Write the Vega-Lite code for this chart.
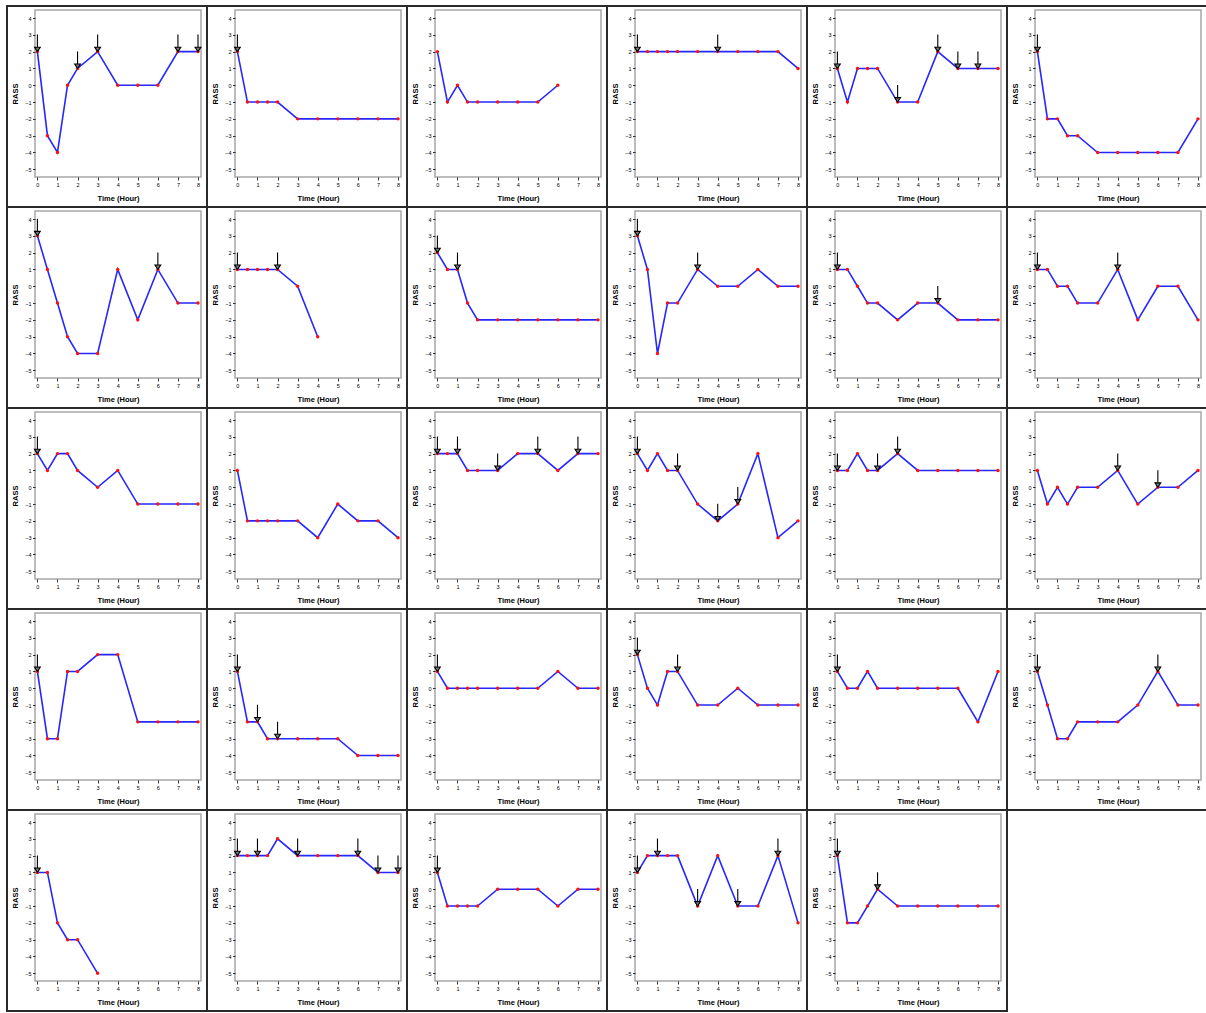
{
"$schema": "https://vega.github.io/schema/vega-lite/v6.json",
"padding": {"left": 5, "top": 4, "right": 0, "bottom": 0},
"bounds": "flush",
"spacing": {"row": 34, "column": 34},
"columns": 6,
"data": {"values": [
{"panel":"P01","time":0,"rass":2,"arrow":1},{"panel":"P01","time":0.5,"rass":-3,"arrow":0},{"panel":"P01","time":1,"rass":-4,"arrow":0},{"panel":"P01","time":1.5,"rass":0,"arrow":0},{"panel":"P01","time":2,"rass":1,"arrow":1},{"panel":"P01","time":3,"rass":2,"arrow":1},{"panel":"P01","time":4,"rass":0,"arrow":0},{"panel":"P01","time":5,"rass":0,"arrow":0},{"panel":"P01","time":6,"rass":0,"arrow":0},{"panel":"P01","time":7,"rass":2,"arrow":1},{"panel":"P01","time":8,"rass":2,"arrow":1},
{"panel":"P02","time":0,"rass":2,"arrow":1},{"panel":"P02","time":0.5,"rass":-1,"arrow":0},{"panel":"P02","time":1,"rass":-1,"arrow":0},{"panel":"P02","time":1.5,"rass":-1,"arrow":0},{"panel":"P02","time":2,"rass":-1,"arrow":0},{"panel":"P02","time":3,"rass":-2,"arrow":0},{"panel":"P02","time":4,"rass":-2,"arrow":0},{"panel":"P02","time":5,"rass":-2,"arrow":0},{"panel":"P02","time":6,"rass":-2,"arrow":0},{"panel":"P02","time":7,"rass":-2,"arrow":0},{"panel":"P02","time":8,"rass":-2,"arrow":0},
{"panel":"P03","time":0,"rass":2,"arrow":0},{"panel":"P03","time":0.5,"rass":-1,"arrow":0},{"panel":"P03","time":1,"rass":0,"arrow":0},{"panel":"P03","time":1.5,"rass":-1,"arrow":0},{"panel":"P03","time":2,"rass":-1,"arrow":0},{"panel":"P03","time":3,"rass":-1,"arrow":0},{"panel":"P03","time":4,"rass":-1,"arrow":0},{"panel":"P03","time":5,"rass":-1,"arrow":0},{"panel":"P03","time":6,"rass":0,"arrow":0},
{"panel":"P04","time":0,"rass":2,"arrow":1},{"panel":"P04","time":0.5,"rass":2,"arrow":0},{"panel":"P04","time":1,"rass":2,"arrow":0},{"panel":"P04","time":1.5,"rass":2,"arrow":0},{"panel":"P04","time":2,"rass":2,"arrow":0},{"panel":"P04","time":3,"rass":2,"arrow":0},{"panel":"P04","time":4,"rass":2,"arrow":1},{"panel":"P04","time":5,"rass":2,"arrow":0},{"panel":"P04","time":6,"rass":2,"arrow":0},{"panel":"P04","time":7,"rass":2,"arrow":0},{"panel":"P04","time":8,"rass":1,"arrow":0},
{"panel":"P05","time":0,"rass":1,"arrow":1},{"panel":"P05","time":0.5,"rass":-1,"arrow":0},{"panel":"P05","time":1,"rass":1,"arrow":0},{"panel":"P05","time":1.5,"rass":1,"arrow":0},{"panel":"P05","time":2,"rass":1,"arrow":0},{"panel":"P05","time":3,"rass":-1,"arrow":1},{"panel":"P05","time":4,"rass":-1,"arrow":0},{"panel":"P05","time":5,"rass":2,"arrow":1},{"panel":"P05","time":6,"rass":1,"arrow":1},{"panel":"P05","time":7,"rass":1,"arrow":1},{"panel":"P05","time":8,"rass":1,"arrow":0},
{"panel":"P06","time":0,"rass":2,"arrow":1},{"panel":"P06","time":0.5,"rass":-2,"arrow":0},{"panel":"P06","time":1,"rass":-2,"arrow":0},{"panel":"P06","time":1.5,"rass":-3,"arrow":0},{"panel":"P06","time":2,"rass":-3,"arrow":0},{"panel":"P06","time":3,"rass":-4,"arrow":0},{"panel":"P06","time":4,"rass":-4,"arrow":0},{"panel":"P06","time":5,"rass":-4,"arrow":0},{"panel":"P06","time":6,"rass":-4,"arrow":0},{"panel":"P06","time":7,"rass":-4,"arrow":0},{"panel":"P06","time":8,"rass":-2,"arrow":0},
{"panel":"P07","time":0,"rass":3,"arrow":1},{"panel":"P07","time":0.5,"rass":1,"arrow":0},{"panel":"P07","time":1,"rass":-1,"arrow":0},{"panel":"P07","time":1.5,"rass":-3,"arrow":0},{"panel":"P07","time":2,"rass":-4,"arrow":0},{"panel":"P07","time":3,"rass":-4,"arrow":0},{"panel":"P07","time":4,"rass":1,"arrow":0},{"panel":"P07","time":5,"rass":-2,"arrow":0},{"panel":"P07","time":6,"rass":1,"arrow":1},{"panel":"P07","time":7,"rass":-1,"arrow":0},{"panel":"P07","time":8,"rass":-1,"arrow":0},
{"panel":"P08","time":0,"rass":1,"arrow":1},{"panel":"P08","time":0.5,"rass":1,"arrow":0},{"panel":"P08","time":1,"rass":1,"arrow":0},{"panel":"P08","time":1.5,"rass":1,"arrow":0},{"panel":"P08","time":2,"rass":1,"arrow":1},{"panel":"P08","time":3,"rass":0,"arrow":0},{"panel":"P08","time":4,"rass":-3,"arrow":0},
{"panel":"P09","time":0,"rass":2,"arrow":1},{"panel":"P09","time":0.5,"rass":1,"arrow":0},{"panel":"P09","time":1,"rass":1,"arrow":1},{"panel":"P09","time":1.5,"rass":-1,"arrow":0},{"panel":"P09","time":2,"rass":-2,"arrow":0},{"panel":"P09","time":3,"rass":-2,"arrow":0},{"panel":"P09","time":4,"rass":-2,"arrow":0},{"panel":"P09","time":5,"rass":-2,"arrow":0},{"panel":"P09","time":6,"rass":-2,"arrow":0},{"panel":"P09","time":7,"rass":-2,"arrow":0},{"panel":"P09","time":8,"rass":-2,"arrow":0},
{"panel":"P10","time":0,"rass":3,"arrow":1},{"panel":"P10","time":0.5,"rass":1,"arrow":0},{"panel":"P10","time":1,"rass":-4,"arrow":0},{"panel":"P10","time":1.5,"rass":-1,"arrow":0},{"panel":"P10","time":2,"rass":-1,"arrow":0},{"panel":"P10","time":3,"rass":1,"arrow":1},{"panel":"P10","time":4,"rass":0,"arrow":0},{"panel":"P10","time":5,"rass":0,"arrow":0},{"panel":"P10","time":6,"rass":1,"arrow":0},{"panel":"P10","time":7,"rass":0,"arrow":0},{"panel":"P10","time":8,"rass":0,"arrow":0},
{"panel":"P11","time":0,"rass":1,"arrow":1},{"panel":"P11","time":0.5,"rass":1,"arrow":0},{"panel":"P11","time":1,"rass":0,"arrow":0},{"panel":"P11","time":1.5,"rass":-1,"arrow":0},{"panel":"P11","time":2,"rass":-1,"arrow":0},{"panel":"P11","time":3,"rass":-2,"arrow":0},{"panel":"P11","time":4,"rass":-1,"arrow":0},{"panel":"P11","time":5,"rass":-1,"arrow":1},{"panel":"P11","time":6,"rass":-2,"arrow":0},{"panel":"P11","time":7,"rass":-2,"arrow":0},{"panel":"P11","time":8,"rass":-2,"arrow":0},
{"panel":"P12","time":0,"rass":1,"arrow":1},{"panel":"P12","time":0.5,"rass":1,"arrow":0},{"panel":"P12","time":1,"rass":0,"arrow":0},{"panel":"P12","time":1.5,"rass":0,"arrow":0},{"panel":"P12","time":2,"rass":-1,"arrow":0},{"panel":"P12","time":3,"rass":-1,"arrow":0},{"panel":"P12","time":4,"rass":1,"arrow":1},{"panel":"P12","time":5,"rass":-2,"arrow":0},{"panel":"P12","time":6,"rass":0,"arrow":0},{"panel":"P12","time":7,"rass":0,"arrow":0},{"panel":"P12","time":8,"rass":-2,"arrow":0},
{"panel":"P13","time":0,"rass":2,"arrow":1},{"panel":"P13","time":0.5,"rass":1,"arrow":0},{"panel":"P13","time":1,"rass":2,"arrow":0},{"panel":"P13","time":1.5,"rass":2,"arrow":0},{"panel":"P13","time":2,"rass":1,"arrow":0},{"panel":"P13","time":3,"rass":0,"arrow":0},{"panel":"P13","time":4,"rass":1,"arrow":0},{"panel":"P13","time":5,"rass":-1,"arrow":0},{"panel":"P13","time":6,"rass":-1,"arrow":0},{"panel":"P13","time":7,"rass":-1,"arrow":0},{"panel":"P13","time":8,"rass":-1,"arrow":0},
{"panel":"P14","time":0,"rass":1,"arrow":0},{"panel":"P14","time":0.5,"rass":-2,"arrow":0},{"panel":"P14","time":1,"rass":-2,"arrow":0},{"panel":"P14","time":1.5,"rass":-2,"arrow":0},{"panel":"P14","time":2,"rass":-2,"arrow":0},{"panel":"P14","time":3,"rass":-2,"arrow":0},{"panel":"P14","time":4,"rass":-3,"arrow":0},{"panel":"P14","time":5,"rass":-1,"arrow":0},{"panel":"P14","time":6,"rass":-2,"arrow":0},{"panel":"P14","time":7,"rass":-2,"arrow":0},{"panel":"P14","time":8,"rass":-3,"arrow":0},
{"panel":"P15","time":0,"rass":2,"arrow":1},{"panel":"P15","time":0.5,"rass":2,"arrow":0},{"panel":"P15","time":1,"rass":2,"arrow":1},{"panel":"P15","time":1.5,"rass":1,"arrow":0},{"panel":"P15","time":2,"rass":1,"arrow":0},{"panel":"P15","time":3,"rass":1,"arrow":1},{"panel":"P15","time":4,"rass":2,"arrow":0},{"panel":"P15","time":5,"rass":2,"arrow":1},{"panel":"P15","time":6,"rass":1,"arrow":0},{"panel":"P15","time":7,"rass":2,"arrow":1},{"panel":"P15","time":8,"rass":2,"arrow":0},
{"panel":"P16","time":0,"rass":2,"arrow":1},{"panel":"P16","time":0.5,"rass":1,"arrow":0},{"panel":"P16","time":1,"rass":2,"arrow":0},{"panel":"P16","time":1.5,"rass":1,"arrow":0},{"panel":"P16","time":2,"rass":1,"arrow":1},{"panel":"P16","time":3,"rass":-1,"arrow":0},{"panel":"P16","time":4,"rass":-2,"arrow":1},{"panel":"P16","time":5,"rass":-1,"arrow":1},{"panel":"P16","time":6,"rass":2,"arrow":0},{"panel":"P16","time":7,"rass":-3,"arrow":0},{"panel":"P16","time":8,"rass":-2,"arrow":0},
{"panel":"P17","time":0,"rass":1,"arrow":1},{"panel":"P17","time":0.5,"rass":1,"arrow":0},{"panel":"P17","time":1,"rass":2,"arrow":0},{"panel":"P17","time":1.5,"rass":1,"arrow":0},{"panel":"P17","time":2,"rass":1,"arrow":1},{"panel":"P17","time":3,"rass":2,"arrow":1},{"panel":"P17","time":4,"rass":1,"arrow":0},{"panel":"P17","time":5,"rass":1,"arrow":0},{"panel":"P17","time":6,"rass":1,"arrow":0},{"panel":"P17","time":7,"rass":1,"arrow":0},{"panel":"P17","time":8,"rass":1,"arrow":0},
{"panel":"P18","time":0,"rass":1,"arrow":0},{"panel":"P18","time":0.5,"rass":-1,"arrow":0},{"panel":"P18","time":1,"rass":0,"arrow":0},{"panel":"P18","time":1.5,"rass":-1,"arrow":0},{"panel":"P18","time":2,"rass":0,"arrow":0},{"panel":"P18","time":3,"rass":0,"arrow":0},{"panel":"P18","time":4,"rass":1,"arrow":1},{"panel":"P18","time":5,"rass":-1,"arrow":0},{"panel":"P18","time":6,"rass":0,"arrow":1},{"panel":"P18","time":7,"rass":0,"arrow":0},{"panel":"P18","time":8,"rass":1,"arrow":0},
{"panel":"P19","time":0,"rass":1,"arrow":1},{"panel":"P19","time":0.5,"rass":-3,"arrow":0},{"panel":"P19","time":1,"rass":-3,"arrow":0},{"panel":"P19","time":1.5,"rass":1,"arrow":0},{"panel":"P19","time":2,"rass":1,"arrow":0},{"panel":"P19","time":3,"rass":2,"arrow":0},{"panel":"P19","time":4,"rass":2,"arrow":0},{"panel":"P19","time":5,"rass":-2,"arrow":0},{"panel":"P19","time":6,"rass":-2,"arrow":0},{"panel":"P19","time":7,"rass":-2,"arrow":0},{"panel":"P19","time":8,"rass":-2,"arrow":0},
{"panel":"P20","time":0,"rass":1,"arrow":1},{"panel":"P20","time":0.5,"rass":-2,"arrow":0},{"panel":"P20","time":1,"rass":-2,"arrow":1},{"panel":"P20","time":1.5,"rass":-3,"arrow":0},{"panel":"P20","time":2,"rass":-3,"arrow":1},{"panel":"P20","time":3,"rass":-3,"arrow":0},{"panel":"P20","time":4,"rass":-3,"arrow":0},{"panel":"P20","time":5,"rass":-3,"arrow":0},{"panel":"P20","time":6,"rass":-4,"arrow":0},{"panel":"P20","time":7,"rass":-4,"arrow":0},{"panel":"P20","time":8,"rass":-4,"arrow":0},
{"panel":"P21","time":0,"rass":1,"arrow":1},{"panel":"P21","time":0.5,"rass":0,"arrow":0},{"panel":"P21","time":1,"rass":0,"arrow":0},{"panel":"P21","time":1.5,"rass":0,"arrow":0},{"panel":"P21","time":2,"rass":0,"arrow":0},{"panel":"P21","time":3,"rass":0,"arrow":0},{"panel":"P21","time":4,"rass":0,"arrow":0},{"panel":"P21","time":5,"rass":0,"arrow":0},{"panel":"P21","time":6,"rass":1,"arrow":0},{"panel":"P21","time":7,"rass":0,"arrow":0},{"panel":"P21","time":8,"rass":0,"arrow":0},
{"panel":"P22","time":0,"rass":2,"arrow":1},{"panel":"P22","time":0.5,"rass":0,"arrow":0},{"panel":"P22","time":1,"rass":-1,"arrow":0},{"panel":"P22","time":1.5,"rass":1,"arrow":0},{"panel":"P22","time":2,"rass":1,"arrow":1},{"panel":"P22","time":3,"rass":-1,"arrow":0},{"panel":"P22","time":4,"rass":-1,"arrow":0},{"panel":"P22","time":5,"rass":0,"arrow":0},{"panel":"P22","time":6,"rass":-1,"arrow":0},{"panel":"P22","time":7,"rass":-1,"arrow":0},{"panel":"P22","time":8,"rass":-1,"arrow":0},
{"panel":"P23","time":0,"rass":1,"arrow":1},{"panel":"P23","time":0.5,"rass":0,"arrow":0},{"panel":"P23","time":1,"rass":0,"arrow":0},{"panel":"P23","time":1.5,"rass":1,"arrow":0},{"panel":"P23","time":2,"rass":0,"arrow":0},{"panel":"P23","time":3,"rass":0,"arrow":0},{"panel":"P23","time":4,"rass":0,"arrow":0},{"panel":"P23","time":5,"rass":0,"arrow":0},{"panel":"P23","time":6,"rass":0,"arrow":0},{"panel":"P23","time":7,"rass":-2,"arrow":0},{"panel":"P23","time":8,"rass":1,"arrow":0},
{"panel":"P24","time":0,"rass":1,"arrow":1},{"panel":"P24","time":0.5,"rass":-1,"arrow":0},{"panel":"P24","time":1,"rass":-3,"arrow":0},{"panel":"P24","time":1.5,"rass":-3,"arrow":0},{"panel":"P24","time":2,"rass":-2,"arrow":0},{"panel":"P24","time":3,"rass":-2,"arrow":0},{"panel":"P24","time":4,"rass":-2,"arrow":0},{"panel":"P24","time":5,"rass":-1,"arrow":0},{"panel":"P24","time":6,"rass":1,"arrow":1},{"panel":"P24","time":7,"rass":-1,"arrow":0},{"panel":"P24","time":8,"rass":-1,"arrow":0},
{"panel":"P25","time":0,"rass":1,"arrow":1},{"panel":"P25","time":0.5,"rass":1,"arrow":0},{"panel":"P25","time":1,"rass":-2,"arrow":0},{"panel":"P25","time":1.5,"rass":-3,"arrow":0},{"panel":"P25","time":2,"rass":-3,"arrow":0},{"panel":"P25","time":3,"rass":-5,"arrow":0},
{"panel":"P26","time":0,"rass":2,"arrow":1},{"panel":"P26","time":0.5,"rass":2,"arrow":0},{"panel":"P26","time":1,"rass":2,"arrow":1},{"panel":"P26","time":1.5,"rass":2,"arrow":0},{"panel":"P26","time":2,"rass":3,"arrow":0},{"panel":"P26","time":3,"rass":2,"arrow":1},{"panel":"P26","time":4,"rass":2,"arrow":0},{"panel":"P26","time":5,"rass":2,"arrow":0},{"panel":"P26","time":6,"rass":2,"arrow":1},{"panel":"P26","time":7,"rass":1,"arrow":1},{"panel":"P26","time":8,"rass":1,"arrow":1},
{"panel":"P27","time":0,"rass":1,"arrow":1},{"panel":"P27","time":0.5,"rass":-1,"arrow":0},{"panel":"P27","time":1,"rass":-1,"arrow":0},{"panel":"P27","time":1.5,"rass":-1,"arrow":0},{"panel":"P27","time":2,"rass":-1,"arrow":0},{"panel":"P27","time":3,"rass":0,"arrow":0},{"panel":"P27","time":4,"rass":0,"arrow":0},{"panel":"P27","time":5,"rass":0,"arrow":0},{"panel":"P27","time":6,"rass":-1,"arrow":0},{"panel":"P27","time":7,"rass":0,"arrow":0},{"panel":"P27","time":8,"rass":0,"arrow":0},
{"panel":"P28","time":0,"rass":1,"arrow":1},{"panel":"P28","time":0.5,"rass":2,"arrow":0},{"panel":"P28","time":1,"rass":2,"arrow":1},{"panel":"P28","time":1.5,"rass":2,"arrow":0},{"panel":"P28","time":2,"rass":2,"arrow":0},{"panel":"P28","time":3,"rass":-1,"arrow":1},{"panel":"P28","time":4,"rass":2,"arrow":0},{"panel":"P28","time":5,"rass":-1,"arrow":1},{"panel":"P28","time":6,"rass":-1,"arrow":0},{"panel":"P28","time":7,"rass":2,"arrow":1},{"panel":"P28","time":8,"rass":-2,"arrow":0},
{"panel":"P29","time":0,"rass":2,"arrow":1},{"panel":"P29","time":0.5,"rass":-2,"arrow":0},{"panel":"P29","time":1,"rass":-2,"arrow":0},{"panel":"P29","time":1.5,"rass":-1,"arrow":0},{"panel":"P29","time":2,"rass":0,"arrow":1},{"panel":"P29","time":3,"rass":-1,"arrow":0},{"panel":"P29","time":4,"rass":-1,"arrow":0},{"panel":"P29","time":5,"rass":-1,"arrow":0},{"panel":"P29","time":6,"rass":-1,"arrow":0},{"panel":"P29","time":7,"rass":-1,"arrow":0},{"panel":"P29","time":8,"rass":-1,"arrow":0}
]},
"facet": {"field": "panel", "type": "nominal", "title": null, "header": {"title": null, "labels": false, "labelExpr": "''", "labelFontSize": 0, "labelPadding": 0}},
"resolve": {"axis": {"x": "independent", "y": "independent"}},
"spec": {
  "width": 166,
  "height": 167,
  "layer": [
    {
      "transform": [{"filter": "datum.time == 0"}],
      "mark": {"type": "rect", "fill": "transparent", "stroke": "#2a2a2a", "strokeWidth": 2, "clip": false},
      "encoding": {
        "x": {"datum": -1.514, "type": "quantitative", "title": "Time (Hour)", "scale": {"domain": [-0.1196, 8.149], "nice": false, "zero": false}, "axis": {"values": [0,1,2,3,4,5,6,7,8], "format": "d", "labelOverlap": false, "labelSeparation": 0, "labelBound": false}},
        "x2": {"datum": 8.448},
        "y": {"datum": 4.72, "type": "quantitative", "title": "RASS", "scale": {"domain": [-5.458, 4.476], "nice": false, "zero": false}, "axis": {"values": [-5,-4,-3,-2,-1,0,1,2,3,4], "format": "d", "labelOverlap": false, "labelSeparation": 0, "labelBound": false}},
        "y2": {"datum": -7.245}
      }
    },
    {
      "mark": {"type": "line", "color": "#2626ff", "strokeWidth": 1.6},
      "encoding": {
        "x": {"field": "time", "type": "quantitative", "title": "Time (Hour)", "axis": {"values": [0,1,2,3,4,5,6,7,8], "format": "d", "labelOverlap": false, "labelSeparation": 0, "labelBound": false}},
        "y": {"field": "rass", "type": "quantitative", "title": "RASS", "axis": {"values": [-5,-4,-3,-2,-1,0,1,2,3,4], "format": "d", "labelOverlap": false, "labelSeparation": 0, "labelBound": false}}
      }
    },
    {
      "mark": {"type": "point", "filled": true, "color": "#ff1010", "size": 12, "opacity": 1},
      "encoding": {
        "x": {"field": "time", "type": "quantitative", "title": "Time (Hour)", "axis": {"values": [0,1,2,3,4,5,6,7,8], "format": "d", "labelOverlap": false, "labelSeparation": 0, "labelBound": false}},
        "y": {"field": "rass", "type": "quantitative", "title": "RASS", "axis": {"values": [-5,-4,-3,-2,-1,0,1,2,3,4], "format": "d", "labelOverlap": false, "labelSeparation": 0, "labelBound": false}}
      }
    },
    {
      "transform": [{"filter": "datum.arrow == 1"}],
      "mark": {"type": "point", "shape": "M0,-2L0,-0.45M-0.34,-0.52L0.34,-0.52L0,0Z", "size": 289, "filled": true, "fill": "#7a7a7a", "stroke": "#000000", "strokeWidth": 1.1, "opacity": 1, "fillOpacity": 1},
      "encoding": {
        "x": {"field": "time", "type": "quantitative", "title": "Time (Hour)", "axis": {"values": [0,1,2,3,4,5,6,7,8], "format": "d", "labelOverlap": false, "labelSeparation": 0, "labelBound": false}},
        "y": {"field": "rass", "type": "quantitative", "title": "RASS", "axis": {"values": [-5,-4,-3,-2,-1,0,1,2,3,4], "format": "d", "labelOverlap": false, "labelSeparation": 0, "labelBound": false}}
      }
    }
  ]
},
"config": {
  "font": "Liberation Sans",
  "view": {"stroke": "#a8a8a8", "strokeWidth": 1.5},
  "header": {"labels": false, "title": null, "labelFontSize": 0},
  "headerFacet": {"labels": false, "title": null, "labelFontSize": 0},
  "axis": {"grid": false, "domain": false, "tickColor": "#000000", "tickWidth": 0.8, "labelColor": "#000000", "titleColor": "#000000", "labelFontSize": 5.5, "titleFontSize": 7.5, "titleFontWeight": "bold", "labelOverlap": false, "labelFlush": false},
  "axisX": {"tickSize": 3, "labelPadding": 2.5, "titlePadding": 6, "labelOverlap": false},
  "axisY": {"tickSize": 2.5, "labelPadding": 1.5, "titlePadding": 5, "labelOverlap": false}
}
}
